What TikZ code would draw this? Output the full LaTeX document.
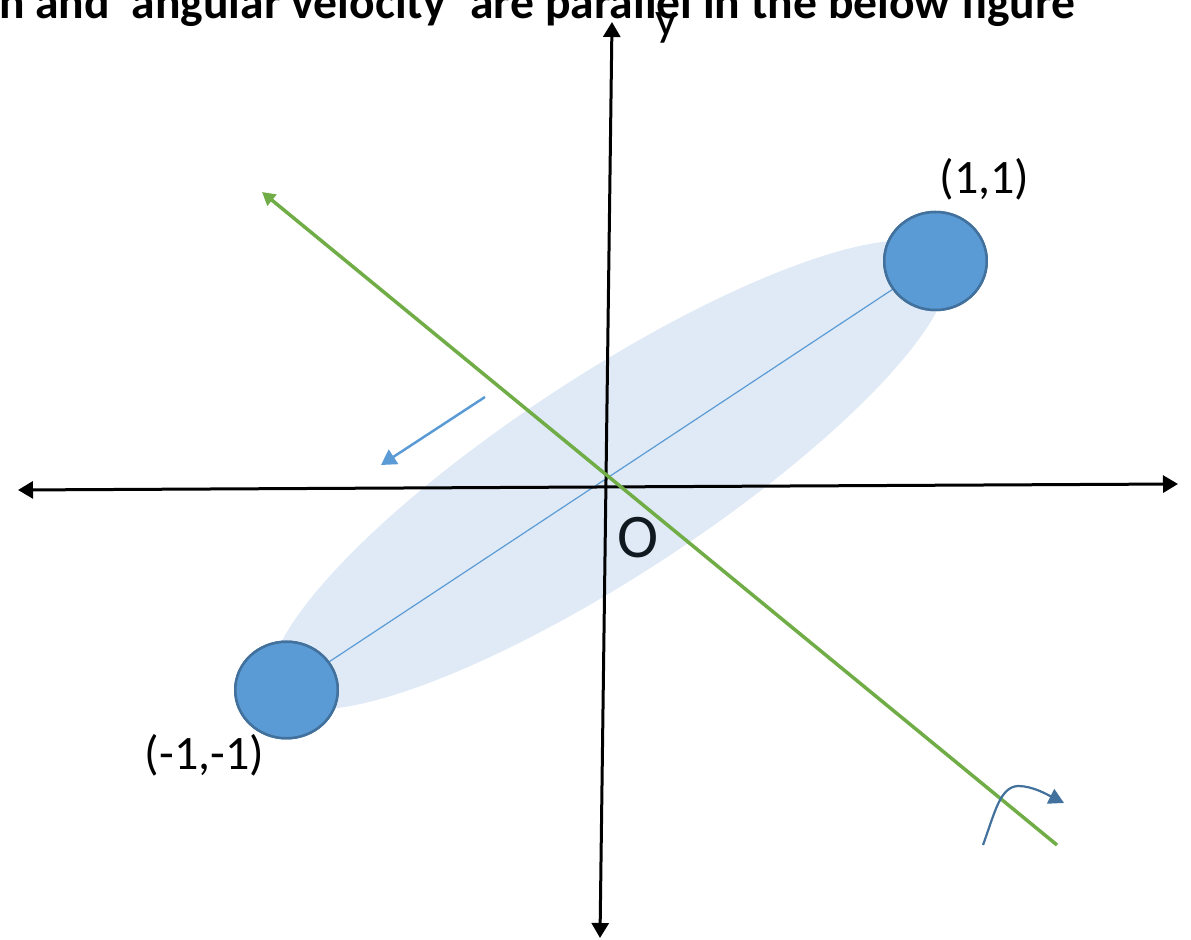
\documentclass[tikz,border=0pt]{standalone}
\usepackage{fontspec}
\setmainfont{Carlito}
\usetikzlibrary{arrows.meta,shapes.geometric}
\definecolor{massfill}{RGB}{91,155,213}
\definecolor{massedge}{RGB}{65,113,156}
\definecolor{bodyfill}{RGB}{223,234,246}
\definecolor{axisgreen}{RGB}{112,173,71}
\definecolor{odark}{RGB}{16,24,32}
\tikzset{
  axisline/.style={line width=1.5pt, black, {Triangle[width=8.5pt,length=7.5pt]}-{Triangle[width=8.5pt,length=7.5pt]}},
  rotaxis/.style={line width=1.75pt, axisgreen, -{Triangle[width=7pt,length=6.5pt]}},
  velarrow/.style={line width=1.25pt, massfill, -{Triangle[width=8.5pt,length=7.5pt]}},
  spinarrow/.style={line width=1.1pt, massedge, -{Triangle[width=8pt,length=7.5pt]}},
  rod/.style={line width=0.6pt, massfill},
  mass/.style={ellipse, draw=massedge, fill=massfill, line width=1.25pt, inner sep=0pt},
  lab/.style={font=\fontsize{24}{28}\selectfont, inner sep=0pt}
}
\begin{document}
\begin{tikzpicture}[x=0.5pt,y=-0.5pt]
\path[use as bounding box] (0,0) rectangle (1191,940);
\begin{scope}
\clip (0,0) rectangle (1191,940);
\node[anchor=base east, inner sep=0pt, font=\bfseries\fontsize{23.8}{28}\selectfont] (title) at (1076,19) {n and `angular velocity' are parallel in the below figure};
\end{scope}
% rigid body
\fill[bodyfill, rotate around={33.2:(610,475)}] (610,475) ellipse [x radius=200pt, y radius=50pt];
\node[mass, minimum width=51.25pt, minimum height=48.25pt] (m1) at (286.5,690) {};
\node[mass, minimum width=51.25pt, minimum height=49pt] (m2) at (935.5,261) {};
\draw[rod] (m1.center) -- (m2.center);
\node[mass, minimum width=51.25pt, minimum height=48.25pt] at (m1.center) {};
\node[mass, minimum width=51.25pt, minimum height=49pt] at (m2.center) {};
% axes
\coordinate (yb) at (600,938);
\coordinate (yt) at (612,22);
\coordinate (xl) at (18,490);
\coordinate (xr) at (1178,484);
\draw[axisline] (xl) -- (xr);
\draw[axisline] (yb) -- (yt);
% rotation axis
\coordinate (ga) at (1057,845);
\coordinate (gb) at (262,192);
\draw[rotaxis] (ga) -- (gb);
% velocity arrow
\coordinate (va) at (485,397);
\coordinate (vb) at (381,465);
\draw[velarrow] (va) -- (vb);
% spin arrow
\coordinate (sa) at (983,845);
\coordinate (sm) at (1018,786);
\coordinate (sb) at (1064,803);
\draw[spinarrow] (sa) .. controls (995,812) and (1000,787) .. (sm) .. controls (1033,786) and (1048,795) .. (sb);
% labels
\node[lab, anchor=base] (l11) at (984.5,194) {(1,1)};
\node[lab, anchor=base] (lm11) at (204.5,770) {(-1,-1)};
\node[anchor=base, inner sep=0pt, font=\fontsize{24}{28}\selectfont] (ylab) at (666.5,36) {y};
\node[anchor=base, inner sep=0pt, text=odark, font=\fontsize{31}{36}\selectfont] (olab) at (638.5,558) {O};
\end{tikzpicture}
\end{document}
